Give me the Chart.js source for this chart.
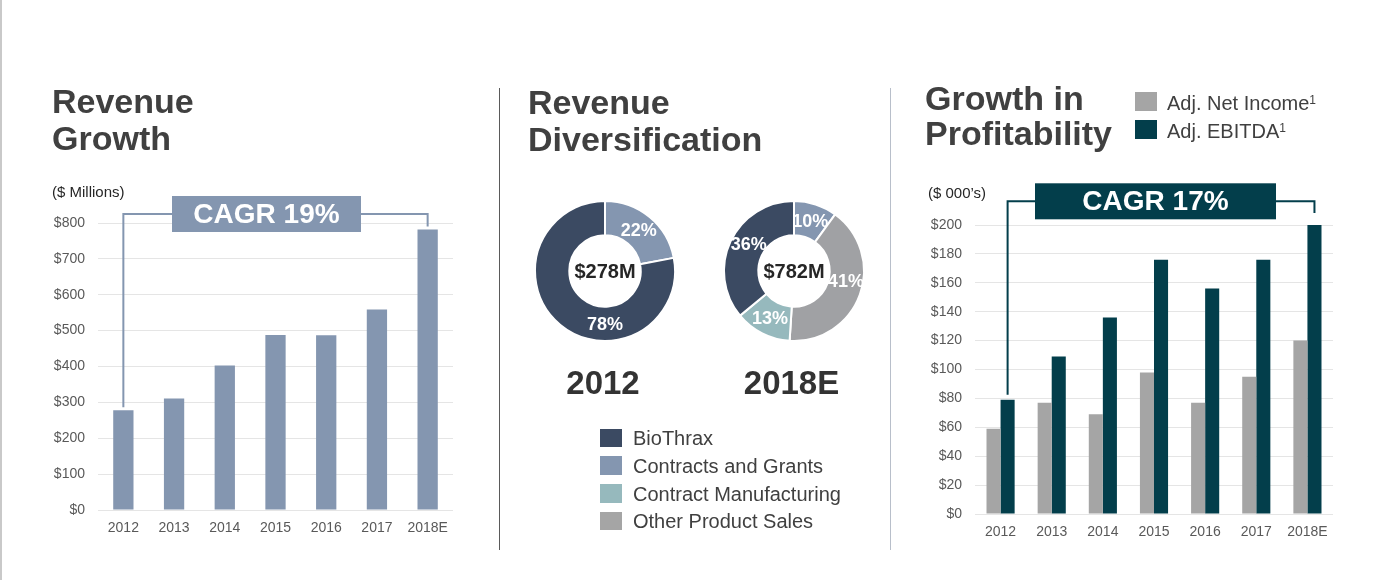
<!DOCTYPE html>
<html><head><meta charset="utf-8">
<script src="https://cdn.jsdelivr.net/npm/chart.js@4.4.1/dist/chart.umd.min.js"></script>
<style>
html,body{margin:0;padding:0;background:#fff;}
body{width:1376px;height:580px;position:relative;overflow:hidden;font-family:"Liberation Sans",Arial,sans-serif;}
canvas.full{position:absolute;left:0;top:0;}
.title{position:absolute;font-weight:bold;font-size:34px;color:#404040;white-space:nowrap;}
.unit{position:absolute;font-size:15px;line-height:15px;color:#262626;white-space:nowrap;}
.sep{position:absolute;width:1px;}
.leg{position:absolute;font-size:20px;line-height:20px;color:#404040;white-space:nowrap;}
.sw{position:absolute;width:22px;height:19px;}
.year{position:absolute;width:200px;text-align:center;font-weight:bold;font-size:33px;line-height:34px;color:#333;}
sup{font-size:12px;vertical-align:top;position:relative;top:-3px;}
</style></head><body>
<div style="position:absolute;left:0;top:0;width:2px;height:580px;background:#c9c9c9;"></div>

<canvas id="c1" class="full" width="1376" height="580"></canvas>
<canvas id="c2" class="full" width="1376" height="580"></canvas>
<canvas id="c3" class="full" width="1376" height="580"></canvas>
<canvas id="c4" class="full" width="1376" height="580"></canvas>

<div class="title" style="left:52px;top:83px;line-height:37px;">Revenue<br>Growth</div>
<div class="title" style="left:528px;top:84px;line-height:37px;">Revenue<br>Diversification</div>
<div class="title" style="left:925px;top:81px;line-height:35px;">Growth in<br>Profitability</div>

<div class="unit" style="left:52px;top:184px;">($ Millions)</div>
<div class="unit" style="left:928px;top:185px;">($ 000’s)</div>

<div class="sep" style="left:499px;top:88px;height:462px;background:#5a5a5a;"></div>
<div class="sep" style="left:890px;top:88px;height:462px;background:#b8bfca;"></div>

<div id="years"></div>
<div id="legMid"></div>
<div id="legRight"></div>

<script>
// ---------- data ----------
const years = ['2012','2013','2014','2015','2016','2017','2018E'];
const revenue = [278, 311, 403, 488, 487, 559, 782];
const revenueTickStep = 100;
const revenueMax = 800;

const netIncome = [59, 77, 69, 98, 77, 95, 120];
const ebitda = [79, 109, 136, 176, 156, 176, 200];
const profitTickStep = 20;
const profitMax = 200;
const profitSeries = ['Adj. Net Income', 'Adj. EBITDA'];

const segments = ['BioThrax', 'Contracts and Grants', 'Contract Manufacturing', 'Other Product Sales'];
const donutYears = ['2012', '2018E'];
const donutTotals = ['$278M', '$782M'];
const mix2012Labels = ['Contracts and Grants', 'BioThrax'];
const mix2012 = [22, 78];
const mix2018Labels = ['Contracts and Grants', 'Other Product Sales', 'Contract Manufacturing', 'BioThrax'];
const mix2018 = [10, 41, 13, 36];

const cagrLeft = 'CAGR 19%';
const cagrRight = 'CAGR 17%';

// ---------- styles ----------
const segColors = {
  'BioThrax': '#3b4a62',
  'Contracts and Grants': '#8496b0',
  'Contract Manufacturing': '#96b9bd',
  'Other Product Sales': '#a0a1a4'
};
const legendSegColors = {
  'BioThrax': '#3b4a62',
  'Contracts and Grants': '#8496b0',
  'Contract Manufacturing': '#96b9bd',
  'Other Product Sales': '#a5a5a5'
};
const barBlue = '#8496b0';
const grayBar = '#a5a5a5';
const tealBar = '#033e4b';
const tickColor = '#595959';
const gridColor = '#e5e5e5';

Chart.defaults.font.family = '"Liberation Sans", Arial, sans-serif';
Chart.defaults.animation = false;

const bracketPlugin = {
  id: 'bracket',
  afterDatasetsDraw(chart, args, o) {
    if (!o || !o.text) return;
    const {ctx, chartArea} = chart;
    const meta = chart.getDatasetMeta(o.datasetIndex);
    const first = meta.data[0], last = meta.data[meta.data.length - 1];
    const cy = chartArea.top - o.raise;
    const cx = chartArea.left + o.centerOffset;
    ctx.save();
    ctx.strokeStyle = o.color;
    ctx.lineWidth = 2;
    ctx.lineJoin = 'miter';
    ctx.beginPath();
    ctx.moveTo(first.x, first.y - o.gapFirst);
    ctx.lineTo(first.x, cy);
    ctx.lineTo(last.x, cy);
    ctx.lineTo(last.x, last.y - o.gapLast);
    ctx.stroke();
    ctx.fillStyle = o.color;
    ctx.fillRect(cx - o.width / 2, cy - o.height / 2, o.width, o.height);
    ctx.fillStyle = '#ffffff';
    ctx.font = 'bold 28px "Liberation Sans", Arial, sans-serif';
    ctx.textAlign = 'center';
    ctx.textBaseline = 'middle';
    ctx.fillText(o.text, cx, cy + 1);
    ctx.restore();
  }
};

const donutPlugin = {
  id: 'donutLabels',
  afterDatasetsDraw(chart, args, o) {
    if (!o || !o.center) return;
    const {ctx} = chart;
    const meta = chart.getDatasetMeta(0);
    const vals = chart.data.datasets[0].data;
    ctx.save();
    ctx.textAlign = 'center';
    ctx.textBaseline = 'middle';
    let cx = 0, cy = 0;
    meta.data.forEach((arc, i) => {
      const p = arc.getProps(['x', 'y', 'innerRadius', 'outerRadius', 'startAngle', 'endAngle'], true);
      cx = p.x; cy = p.y;
      let a = (p.startAngle + p.endAngle) / 2;
      if (o.angles && o.angles[i] != null) a = o.angles[i] * Math.PI / 180 - Math.PI / 2;
      const r = (p.innerRadius + p.outerRadius) / 2;
      ctx.fillStyle = '#ffffff';
      ctx.font = 'bold 18px "Liberation Sans", Arial, sans-serif';
      ctx.fillText(vals[i] + '%', p.x + r * Math.cos(a), p.y + r * Math.sin(a) + 1);
    });
    ctx.fillStyle = '#262626';
    ctx.font = 'bold 20px "Liberation Sans", Arial, sans-serif';
    ctx.fillText(o.center, cx, cy + 1);
    ctx.restore();
  }
};

function yScale(max, step, axisWidth, pad) {
  return {
    min: 0, max: max,
    ticks: {stepSize: step, callback: v => '$' + v, padding: pad, color: tickColor, font: {size: 14}},
    grid: {color: gridColor, drawTicks: false, lineWidth: 1},
    border: {display: false},
    afterFit(s) { s.width = axisWidth; }
  };
}
function xScale() {
  return {
    grid: {display: false, drawTicks: false},
    border: {display: false},
    ticks: {color: tickColor, font: {size: 14}, padding: 10, maxRotation: 0},
    afterFit(s) { s.height = 30; }
  };
}

// ---------- left: revenue growth ----------
new Chart(document.getElementById('c1'), {
  type: 'bar',
  data: {labels: years, datasets: [{data: revenue, backgroundColor: barBlue, barPercentage: 0.4, categoryPercentage: 1}]},
  options: {
    responsive: false,
    layout: {padding: {left: 40, top: 223, right: 923, bottom: 40}},
    scales: {x: xScale(), y: yScale(revenueMax, revenueTickStep, 58, 13)},
    plugins: {
      legend: {display: false}, tooltip: {enabled: false},
      bracket: {text: cagrLeft, datasetIndex: 0, color: barBlue, raise: 9, centerOffset: 168.5,
                width: 189, height: 36, gapFirst: 3, gapLast: 3}
    }
  },
  plugins: [bracketPlugin]
});

// ---------- middle: donuts ----------
function donut(id, labels, values, padding, center, angles) {
  new Chart(document.getElementById(id), {
    type: 'doughnut',
    data: {labels: labels, datasets: [{data: values, backgroundColor: labels.map(l => segColors[l]),
           borderColor: '#ffffff', borderWidth: 2}]},
    options: {
      responsive: false,
      cutout: '51%',
      layout: {padding: padding},
      plugins: {legend: {display: false}, tooltip: {enabled: false},
                donutLabels: {center: center, angles: angles}}
    },
    plugins: [donutPlugin]
  });
}
donut('c2', mix2012Labels, mix2012, {left: 534, top: 200, right: 700, bottom: 238}, donutTotals[0], [null, 180]);
donut('c3', mix2018Labels, mix2018, {left: 723, top: 200, right: 511, bottom: 238}, donutTotals[1], [null, 101, null, 301]);

// ---------- right: profitability ----------
new Chart(document.getElementById('c4'), {
  type: 'bar',
  data: {labels: years, datasets: [
    {label: profitSeries[0], data: netIncome, backgroundColor: grayBar, barPercentage: 1, categoryPercentage: 0.55},
    {label: profitSeries[1], data: ebitda, backgroundColor: tealBar, barPercentage: 1, categoryPercentage: 0.55}
  ]},
  options: {
    responsive: false,
    layout: {padding: {left: 900, top: 225, right: 43, bottom: 36}},
    scales: {x: xScale(), y: yScale(profitMax, profitTickStep, 75, 13)},
    plugins: {
      legend: {display: false}, tooltip: {enabled: false},
      bracket: {text: cagrRight, datasetIndex: 1, color: tealBar, raise: 23.7, centerOffset: 180.5,
                width: 241, height: 36, gapFirst: 5, gapLast: 12}
    }
  },
  plugins: [bracketPlugin]
});

// ---------- HTML legends & year labels ----------
const yearsDiv = document.getElementById('years');
const yearCenters = [603, 791.5];
donutYears.forEach((y, i) => {
  const d = document.createElement('div');
  d.className = 'year';
  d.style.left = (yearCenters[i] - 100) + 'px';
  d.style.top = '366px';
  d.textContent = y;
  yearsDiv.appendChild(d);
});

const legMid = document.getElementById('legMid');
segments.forEach((s, i) => {
  const base = 445 + i * 27.8;
  const sw = document.createElement('div');
  sw.className = 'sw';
  sw.style.left = '600px';
  sw.style.top = (base - 16.5) + 'px';
  sw.style.height = '18.5px';
  sw.style.background = legendSegColors[s];
  legMid.appendChild(sw);
  const t = document.createElement('div');
  t.className = 'leg';
  t.style.left = '633px';
  t.style.top = (base - 17) + 'px';
  t.textContent = s;
  legMid.appendChild(t);
});

const legRight = document.getElementById('legRight');
const rightColors = [grayBar, tealBar];
profitSeries.forEach((s, i) => {
  const base = 110 + i * 28.3;
  const sw = document.createElement('div');
  sw.className = 'sw';
  sw.style.left = '1135px';
  sw.style.top = (base - 18.3) + 'px';
  sw.style.background = rightColors[i];
  legRight.appendChild(sw);
  const t = document.createElement('div');
  t.className = 'leg';
  t.style.left = '1167px';
  t.style.top = (base - 17) + 'px';
  t.innerHTML = s + '<sup>1</sup>';
  legRight.appendChild(t);
});
</script>
</body></html>
